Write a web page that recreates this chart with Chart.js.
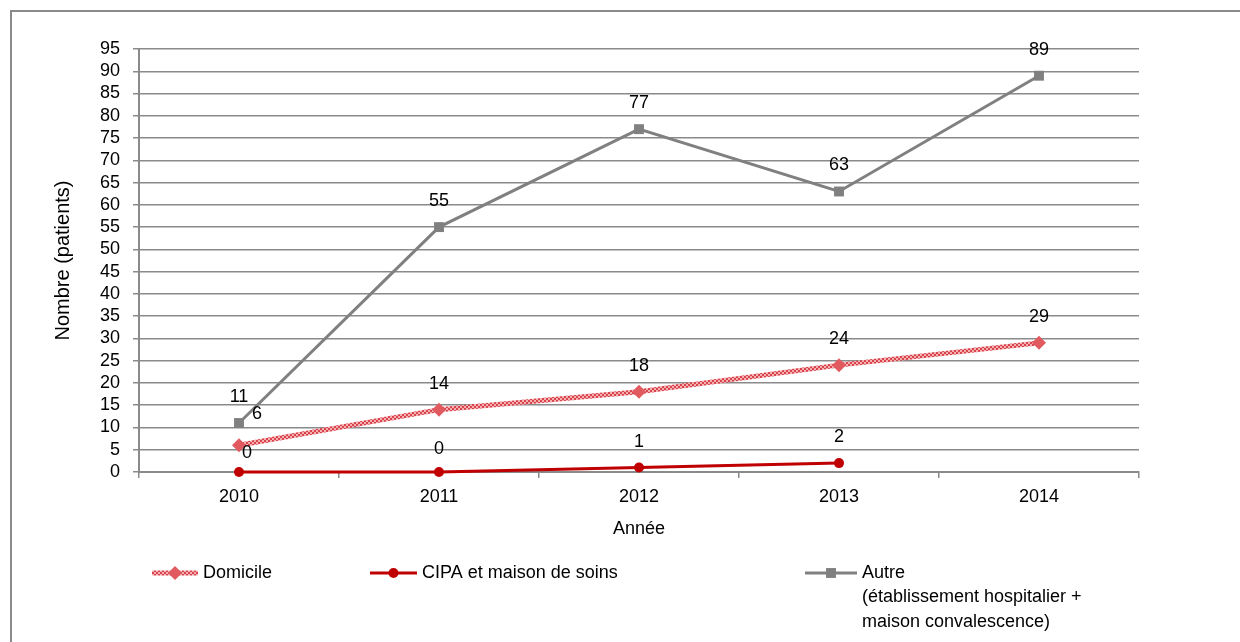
<!DOCTYPE html>
<html>
<head>
<meta charset="utf-8">
<script src="https://cdn.jsdelivr.net/npm/chart.js@4/dist/chart.umd.min.js"></script>
<style>
  html, body { margin: 0; padding: 0; background: #fff; overflow: hidden; }
  #frame {
    position: absolute; left: 10px; top: 10px; width: 1300px; height: 700px;
    border-left: 2px solid #8a8a8a; border-top: 2px solid #8a8a8a;
  }
  #wrap { position: absolute; left: 0; top: 0; width: 1240px; height: 642px; }
</style>
</head>
<body>
<div id="frame"></div>
<div id="wrap"><canvas id="chart" width="1240" height="642"></canvas></div>
<script>
// Provenance des patients, 2010-2014
const years = ['2010', '2011', '2012', '2013', '2014'];
const domicile = [6, 14, 18, 24, 29];
const cipa = [0, 0, 1, 2, null];
const autre = [11, 55, 77, 63, 89];

const seriesNames = ['Domicile', 'CIPA et maison de soins', ['Autre', '(établissement hospitalier +', 'maison convalescence)']];
const yMax = 95;
const yStep = 5;

const FONT = '"Liberation Sans", Arial, sans-serif';

// Motif hachuré pour la ligne "Domicile".
function makePattern() {
  const c = document.createElement('canvas');
  c.width = 4;
  c.height = 4;
  const g = c.getContext('2d');
  g.fillStyle = '#f4b0b3';
  g.fillRect(0, 0, 4, 4);
  g.fillStyle = '#d9434b';
  g.fillRect(0, 0, 2, 2);
  g.fillRect(2, 2, 2, 2);
  return g.createPattern(c, 'repeat');
}

// Petits décalages des étiquettes (comme dans l'original).
const labelShift = {
  '0-0': [18, -5],
  '1-0': [8, 7],
  '1-1': [0, 3]
};

const dataLabelsPlugin = {
  id: 'dataLabelsPlugin',
  afterDatasetsDraw(chart) {
    const ctx = chart.ctx;
    ctx.save();
    ctx.font = '18px ' + FONT;
    ctx.fillStyle = '#000';
    ctx.textAlign = 'center';
    ctx.textBaseline = 'middle';
    chart.data.datasets.forEach((ds, di) => {
      const meta = chart.getDatasetMeta(di);
      meta.data.forEach((pt, i) => {
        const v = ds.data[i];
        if (v === null || v === undefined) return;
        const shift = labelShift[di + '-' + i] || [0, 0];
        ctx.fillText(String(v), pt.x + shift[0], pt.y - 26 + shift[1]);
      });
    });
    ctx.restore();
  }
};

const legendPlugin = {
  id: 'legendPlugin',
  afterDraw(chart) {
    const ctx = chart.ctx;
    const y = 573;
    const items = [
      { x: 152, w: 46, r: 7 },
      { x: 370, w: 47, r: 5 },
      { x: 805, w: 52, r: 7 }
    ];
    ctx.save();
    chart.data.datasets.forEach((ds, di) => {
      const it = items[di];
      ctx.beginPath();
      ctx.moveTo(it.x, y);
      ctx.lineTo(it.x + it.w, y);
      ctx.lineWidth = ds.borderWidth;
      ctx.strokeStyle = ds.borderColor;
      ctx.stroke();
      ctx.fillStyle = ds.pointBackgroundColor;
      Chart.helpers.drawPoint(ctx, {
        pointStyle: ds.pointStyle,
        radius: it.r,
        rotation: 0,
        borderWidth: 0
      }, it.x + it.w / 2, y);
      ctx.fillStyle = '#000';
      ctx.font = '18px ' + FONT;
      ctx.textAlign = 'left';
      ctx.textBaseline = 'middle';
      const lines = [].concat(seriesNames[di]);
      lines.forEach((t, li) => {
        ctx.fillText(t, it.x + it.w + 5, y + li * 24.5);
      });
    });
    ctx.restore();
  }
};

const gridColor = '#8a8a8a';

new Chart(document.getElementById('chart'), {
  type: 'line',
  data: {
    labels: years,
    datasets: [
      {
        label: 'Domicile',
        data: domicile,
        borderColor: makePattern(),
        borderWidth: 5,
        pointStyle: 'rectRot',
        pointRadius: 7,
        pointBackgroundColor: '#e05a60',
        pointBorderWidth: 0,
        clip: false,
        order: 2
      },
      {
        label: 'CIPA et maison de soins',
        data: cipa,
        borderColor: '#c00000',
        borderWidth: 3,
        pointStyle: 'circle',
        pointRadius: 5,
        pointBackgroundColor: '#c00000',
        pointBorderWidth: 0,
        clip: false,
        order: 1
      },
      {
        label: 'Autre',
        data: autre,
        borderColor: '#808080',
        borderWidth: 3,
        pointStyle: 'rect',
        pointRadius: 7,
        pointBackgroundColor: '#808080',
        pointBorderWidth: 0,
        clip: false,
        order: 3
      }
    ]
  },
  options: {
    responsive: false,
    animation: false,
    layout: { padding: { left: 48, top: 49, right: 101, bottom: 98 } },
    plugins: {
      legend: { display: false },
      tooltip: { enabled: false }
    },
    elements: { line: { tension: 0 } },
    scales: {
      x: {
        offset: true,
        afterFit(scale) { scale.height = 72; },
        grid: {
          offset: true,
          drawOnChartArea: false,
          drawTicks: true,
          tickLength: 6,
          color: gridColor,
          lineWidth: 1.5
        },
        border: { color: gridColor, width: 2 },
        ticks: { color: '#000', font: { family: FONT, size: 18 }, padding: 8 },
        title: {
          display: true,
          text: 'Année',
          color: '#000',
          font: { family: FONT, size: 18 },
          padding: { top: 4, bottom: 4 }
        }
      },
      y: {
        min: 0,
        max: yMax,
        afterFit(scale) { scale.width = 91; },
        grid: {
          color: gridColor,
          lineWidth: 1.5,
          tickLength: 6
        },
        border: { color: gridColor, width: 2 },
        ticks: {
          stepSize: yStep,
          autoSkip: false,
          color: '#000',
          font: { family: FONT, size: 18 },
          padding: 13
        },
        title: {
          display: true,
          text: 'Nombre (patients)',
          color: '#000',
          font: { family: FONT, size: 20 },
          padding: { top: 3, bottom: 3 }
        }
      }
    }
  },
  plugins: [dataLabelsPlugin, legendPlugin]
});
</script>
</body>
</html>
